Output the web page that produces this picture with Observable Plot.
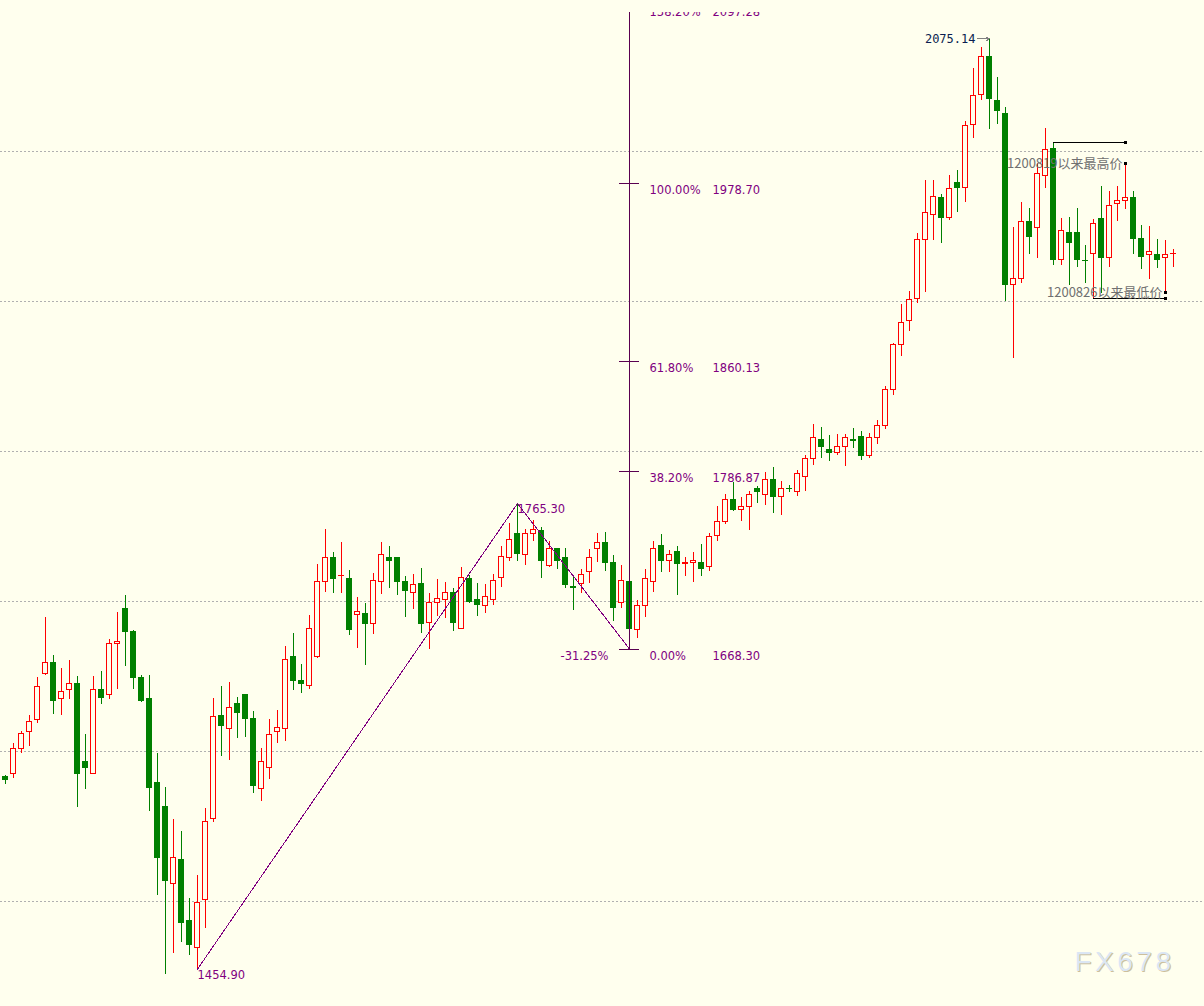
<!DOCTYPE html>
<html><head><meta charset="utf-8">
<script src="https://cdn.jsdelivr.net/npm/d3@7"></script>
<script src="https://cdn.jsdelivr.net/npm/@observablehq/plot@0.6"></script>
<style>
html,body{margin:0;padding:0;background:#ffffee;}
#chart{width:1204px;height:1006px;overflow:hidden;}
#chart svg{display:block;}
</style></head><body><div id="chart"></div>
<script>
const opens=[1582.7,1584.7,1602.0,1612.7,1620.7,1652.0,1659.3,1635.3,1641.3,1645.3,
1592.7,1585.3,1640.7,1638.0,1672.0,1695.3,1680.0,1649.3,1634.7,1579.3,
1562.7,1512.0,1528.0,1486.7,1469.3,1501.3,1554.7,1624.0,1614.7,1632.0,
1638.0,1622.0,1575.3,1588.7,1613.3,1615.3,1662.7,1646.7,1644.0,1663.3,
1712.7,1728.7,1716.7,1715.3,1690.7,1692.0,1685.3,1712.7,1729.3,1728.7,
1713.3,1706.0,1712.0,1686.0,1698.7,1701.3,1706.0,1682.0,1715.3,1701.3,
1696.7,1700.7,1716.0,1729.3,1744.7,1730.7,1745.3,1747.3,1724.0,1734.7,
1728.7,1710.0,1712.0,1720.0,1735.3,1738.7,1726.0,1698.7,1713.3,1681.3,
1697.3,1713.3,1737.3,1727.3,1733.3,1724.7,1726.0,1726.0,1722.7,1744.0,
1752.7,1768.0,1760.7,1763.3,1775.3,1771.3,1780.7,1770.0,1775.3,1773.3,
1782.7,1794.7,1808.0,1801.3,1799.3,1802.7,1808.0,1810.0,1796.7,1809.3,
1817.3,1840.7,1871.3,1886.7,1902.0,1941.3,1958.0,1969.3,1956.0,1979.3,
1976.0,2018.0,2038.0,2062.7,2034.0,2025.3,1910.7,1915.3,1952.7,1949.3,
1984.0,2002.0,1928.0,1946.0,1946.0,1927.3,1932.0,1954.7,1929.3,1965.3,
1966.7,1969.3,1942.0,1931.3,1930.7,1928.7,1931.7];
const highs=[1584.0,1605.3,1613.3,1624.0,1649.3,1689.3,1664.0,1655.3,1660.7,1650.0,
1611.3,1650.0,1653.3,1674.7,1692.7,1704.0,1680.7,1650.7,1650.7,1598.7,
1576.0,1554.7,1546.7,1502.0,1517.3,1562.0,1635.3,1643.3,1646.0,1636.0,
1638.0,1626.7,1602.0,1621.3,1627.3,1670.0,1678.7,1658.0,1690.7,1724.7,
1748.0,1732.7,1739.3,1720.7,1702.7,1698.7,1718.7,1739.3,1736.7,1728.7,
1716.7,1718.0,1722.0,1705.3,1714.7,1712.7,1708.7,1722.7,1717.3,1712.0,
1711.3,1718.0,1736.7,1752.0,1765.3,1748.0,1754.0,1749.3,1740.0,1735.3,
1735.3,1716.0,1721.3,1734.7,1745.3,1746.0,1730.7,1724.0,1713.3,1700.7,
1721.3,1740.0,1744.7,1734.0,1736.7,1729.3,1732.7,1738.0,1745.3,1763.3,
1771.3,1779.3,1769.3,1773.3,1776.7,1786.0,1789.3,1780.0,1777.3,1787.3,
1797.3,1818.0,1816.0,1810.7,1811.3,1811.3,1815.3,1813.3,1812.0,1820.7,
1843.3,1872.0,1898.0,1906.7,1945.3,1980.7,1980.7,1971.3,1984.0,1987.3,
2020.0,2055.3,2069.3,2075.14,2049.3,2029.3,1949.3,1966.0,1962.0,1992.0,
2015.3,2006.0,1955.3,1956.0,1962.0,1937.3,1954.7,1976.7,1973.3,1976.7,
1992.0,1973.3,1950.7,1950.0,1941.3,1940.7,1934.7];
const lows=[1578.0,1582.0,1598.7,1603.3,1618.7,1650.7,1624.7,1624.0,1634.7,1562.7,
1574.7,1584.7,1631.3,1634.7,1641.3,1656.7,1641.3,1632.7,1560.0,1504.0,
1451.3,1465.3,1472.7,1464.0,1454.9,1482.0,1552.7,1596.7,1594.0,1608.7,
1609.3,1572.0,1566.7,1581.3,1605.3,1606.7,1640.7,1638.7,1641.3,1662.0,
1706.0,1705.3,1705.3,1677.3,1668.7,1657.3,1678.0,1704.7,1708.7,1704.0,
1689.3,1694.7,1678.7,1668.0,1690.0,1688.7,1680.0,1681.3,1698.7,1690.0,
1692.0,1697.3,1709.3,1726.7,1726.7,1724.0,1740.0,1715.3,1722.7,1721.3,
1708.7,1694.0,1705.3,1712.0,1726.0,1720.0,1686.7,1695.3,1668.3,1675.3,
1689.3,1706.0,1719.3,1719.3,1704.0,1716.7,1712.7,1716.7,1720.0,1740.0,
1751.3,1760.0,1753.3,1747.3,1765.3,1764.0,1758.7,1757.3,1772.7,1770.0,
1773.3,1790.7,1795.3,1793.3,1797.3,1790.0,1802.0,1794.0,1795.3,1804.7,
1814.7,1837.3,1863.3,1880.0,1898.7,1906.0,1940.7,1938.7,1954.0,1959.3,
1966.0,2008.7,2034.0,2014.7,2018.0,1900.0,1862.0,1912.0,1931.3,1928.7,
1975.3,1924.0,1924.0,1910.7,1922.7,1912.0,1902.0,1905.3,1922.7,1953.3,
1961.3,1931.3,1921.3,1914.7,1922.0,1906.0,1922.7];
const closes=[1580.7,1602.0,1612.0,1620.0,1643.3,1659.3,1634.0,1640.0,1645.3,1585.3,
1589.3,1640.7,1636.0,1672.0,1673.3,1680.0,1649.3,1634.0,1576.0,1529.3,
1514.0,1528.7,1486.0,1470.7,1499.3,1553.3,1622.7,1616.7,1629.3,1626.0,
1622.0,1576.7,1592.7,1611.3,1616.0,1661.3,1646.7,1644.7,1682.0,1712.7,
1728.7,1714.7,1717.3,1681.3,1692.7,1684.7,1714.0,1730.7,1726.7,1712.7,
1706.7,1710.7,1684.7,1698.7,1702.0,1706.0,1686.0,1716.0,1700.0,1698.0,
1702.7,1714.0,1730.0,1741.3,1732.0,1744.7,1748.0,1726.7,1734.7,1726.7,
1710.7,1709.3,1718.0,1729.3,1739.3,1726.0,1696.0,1714.0,1682.0,1696.7,
1715.3,1735.3,1727.3,1730.7,1724.7,1726.0,1726.7,1722.0,1743.3,1752.7,
1768.0,1760.7,1763.3,1770.7,1772.7,1780.7,1770.0,1775.3,1774.7,1784.7,
1794.7,1808.7,1803.3,1798.7,1802.7,1808.7,1807.3,1796.7,1808.7,1816.7,
1840.7,1870.7,1886.0,1900.7,1941.3,1958.7,1970.0,1956.0,1974.7,1976.0,
2017.3,2037.3,2062.7,2034.7,2026.7,1911.3,1915.3,1953.3,1943.3,1984.7,
2001.3,1928.0,1946.7,1938.7,1928.0,1926.7,1952.0,1929.3,1964.0,1967.3,
1969.3,1942.0,1930.0,1932.7,1928.0,1931.3,1932.0];

const gridPrices=[1500,1600,1700,1800,1900,2000];
const zigzagIdx=[24,64,78];
const zigzagPrices=[1454.90,1765.30,1668.30];
const fibIdx=78;
const fibPrices=[1668.30,1786.87,1860.13,1978.70,2097.28];
const fibLabels=["0.00%","38.20%","61.80%","100.00%","138.20%"];
const retraceLabel="-31.25%";
const peakIdx=123, peakPrice=2075.14;
const highNoteStart=131, highNoteEnd=140, highNoteText="1200819以来最高价";
const lowNoteStart=136, lowNoteEnd=145, lowNoteText="1200826以来最低价";
const watermark="FX678";

const BG="#ffffee", UP="#ff0000", DOWN="#008000", PURPLE="#800080";
const candles=opens.map((o,i)=>({i,open:o,high:highs[i],low:lows[i],close:closes[i],up:closes[i]>=o}));
const zig=zigzagIdx.map((x,k)=>({x,y:zigzagPrices[k]}));
const fib=fibPrices.map((p,k)=>({p,label:fibLabels[k]}));
const bw=2.5/8;

const chart=Plot.plot({
  width:1204,height:1006,
  marginTop:12,marginRight:0,marginBottom:0,marginLeft:0,
  x:{type:"linear",domain:[-0.625,149.875],axis:null},
  y:{type:"linear",domain:[1430,2092.67],axis:null},
  style:{background:BG,fontFamily:"DejaVu Sans, sans-serif",shapeRendering:"crispEdges"},
  marks:[
    Plot.ruleY(gridPrices,{y:d=>d,stroke:"#b0b0b0",strokeDasharray:"2,2",strokeWidth:1}),
    Plot.ruleX(candles,{x:"i",y1:"low",y2:"high",stroke:d=>d.up?UP:DOWN,strokeWidth:1}),
    Plot.rect(candles,{x1:d=>d.i-bw,x2:d=>d.i+bw,y1:"open",y2:"close",
      fill:d=>d.up?BG:DOWN,stroke:d=>d.up?UP:DOWN,strokeWidth:1}),
    Plot.line(zig,{x:"x",y:"y",stroke:PURPLE,strokeWidth:1}),
    Plot.text([zig[0],zig[1]],{x:"x",y:"y",text:d=>d.y.toFixed(2),textAnchor:"start",dy:6,fill:PURPLE,fontSize:11.5}),
    Plot.ruleX([fibIdx],{x:d=>d,y1:fibPrices[0],y2:2150,stroke:"#5a0050",strokeWidth:1,clip:true}),
    Plot.ruleY(fib,{y:"p",x1:fibIdx-1.25,x2:fibIdx+1.25,stroke:"#5a0050",strokeWidth:1,clip:true}),
    Plot.text(fib,{x:()=>fibIdx,y:"p",text:"label",dx:20,dy:7,textAnchor:"start",fill:PURPLE,fontSize:11.5,clip:true}),
    Plot.text(fib,{x:()=>fibIdx,y:"p",text:d=>d.p.toFixed(2),dx:83,dy:7,textAnchor:"start",fill:PURPLE,fontSize:11.5,clip:true}),
    Plot.text([retraceLabel],{x:()=>fibIdx,y:()=>fibPrices[0],text:d=>d,dx:-21,dy:7,textAnchor:"end",fill:PURPLE,fontSize:11.5}),
    Plot.arrow([peakPrice],{x1:()=>peakIdx-1.5,x2:()=>peakIdx,y1:d=>d,y2:d=>d,stroke:"#808080",headLength:5,strokeWidth:1}),
    Plot.text([peakPrice],{x:()=>peakIdx,y:d=>d,text:d=>d.toFixed(2),dx:-14,textAnchor:"end",fill:"#0a1e50",fontSize:12,fontFamily:"DejaVu Sans Mono, monospace"}),
    Plot.ruleY([highs[highNoteStart]],{y:d=>d,x1:highNoteStart,x2:highNoteEnd,stroke:"#000000",strokeWidth:1}),
    Plot.dot([highs[highNoteStart],highs[highNoteEnd]],{x:()=>highNoteEnd,y:d=>d,symbol:"square",r:1.9,fill:"#000000"}),
    Plot.text([highs[highNoteEnd]],{x:()=>highNoteEnd,y:d=>d,text:()=>highNoteText,dx:-3,textAnchor:"end",fill:"#707070",fontSize:13,fontFamily:"Noto Sans CJK SC, sans-serif"}),
    Plot.ruleY([lows[lowNoteStart]],{y:d=>d,x1:lowNoteStart,x2:lowNoteEnd,stroke:"#000000",strokeWidth:1}),
    Plot.dot([lows[lowNoteStart],lows[lowNoteEnd]],{x:()=>lowNoteEnd,y:d=>d,symbol:"square",r:1.9,fill:"#000000"}),
    Plot.text([lows[lowNoteEnd]],{x:()=>lowNoteEnd,y:d=>d,text:()=>lowNoteText,dx:-3,textAnchor:"end",fill:"#707070",fontSize:13,fontFamily:"Noto Sans CJK SC, sans-serif"}),
    Plot.text([watermark],{frameAnchor:"bottom-right",text:d=>d,dx:-29,dy:-35,textAnchor:"end",fill:"#cdbf9c",fontSize:28,fontFamily:"Liberation Sans, Arial, sans-serif"}),
    Plot.text([watermark],{frameAnchor:"bottom-right",text:d=>d,dx:-30,dy:-36,textAnchor:"end",fill:"#dbe6f4",fontSize:28,fontFamily:"Liberation Sans, Arial, sans-serif"})
  ]
});
d3.select(chart).selectAll("text").filter(function(){return this.textContent===watermark;}).attr("letter-spacing","3.5");
document.getElementById("chart").appendChild(chart);
</script></body></html>
